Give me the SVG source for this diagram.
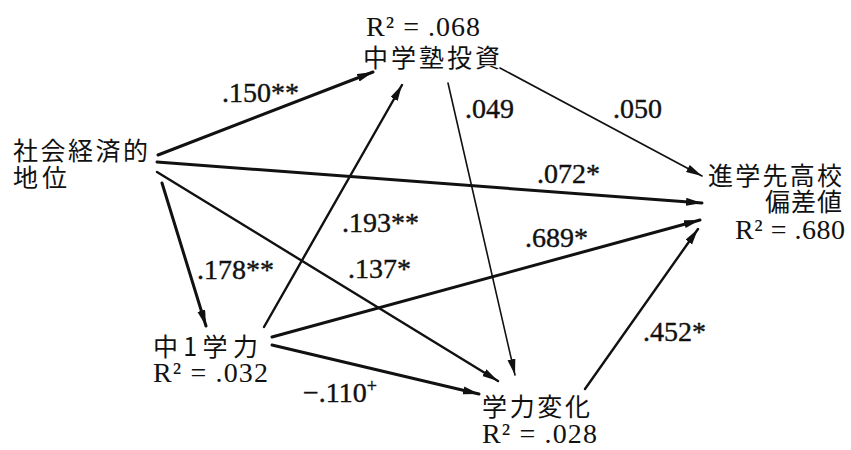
<svg xmlns="http://www.w3.org/2000/svg" width="851" height="450" viewBox="0 0 851 450">
<style>
.jp{font-family:"Noto Sans CJK JP","Noto Sans CJK SC",sans-serif;font-size:25px;fill:#111}
.r2{font-family:"Liberation Serif","DejaVu Serif",serif;font-size:28px;fill:#111}
.lb{font-family:"Liberation Serif","DejaVu Serif",serif;font-size:28px;fill:#111;stroke:#111;stroke-width:0.4}
.e{fill:none;stroke:#111;stroke-linecap:round}
.tk{stroke-width:3}
.md{stroke-width:2.4}
.tn{stroke-width:1.6}
</style>
<defs>
<marker id="ah" markerUnits="userSpaceOnUse" markerWidth="18" markerHeight="10" refX="16" refY="4" orient="auto">
<path d="M0,0 L16,4 L0,8 z" fill="#111"/>
</marker>
</defs>
<g id="connectors">
<line class="e tk" x1="158" y1="155" x2="373" y2="72" marker-end="url(#ah)"/>
<line class="e tk" x1="157" y1="162" x2="702" y2="203" marker-end="url(#ah)"/>
<line class="e md" x1="157" y1="172" x2="498" y2="381" marker-end="url(#ah)"/>
<line class="e tk" x1="162" y1="183" x2="206" y2="326" marker-end="url(#ah)"/>
<line class="e md" x1="264" y1="327" x2="402" y2="85" marker-end="url(#ah)"/>
<line class="e tk" x1="272" y1="337" x2="700" y2="220" marker-end="url(#ah)"/>
<line class="e tk" x1="272" y1="345" x2="479" y2="394" marker-end="url(#ah)"/>
<line class="e tn" x1="448" y1="83" x2="515" y2="375" marker-end="url(#ah)"/>
<line class="e tn" x1="500" y1="68" x2="702" y2="176" marker-end="url(#ah)"/>
<line class="e md" x1="585" y1="389" x2="698" y2="229" marker-end="url(#ah)"/>
<text class="lb" x="222" y="102">.150**</text>
<text class="lb" x="537" y="183">.072*</text>
<text class="lb" x="613" y="118">.050</text>
<text class="lb" x="465" y="118">.049</text>
<text class="lb" x="342" y="232">.193**</text>
<text class="lb" x="197" y="279">.178**</text>
<text class="lb" x="348" y="278">.137*</text>
<text class="lb" x="525" y="247">.689*</text>
<text class="lb" x="303" y="402">−.110<tspan dy="-10" font-size="18">+</tspan></text>
<text class="lb" x="643" y="341">.452*</text>
</g>
<g id="node-juku">
<text class="r2" x="366" y="36" textLength="114">R² = .068</text>
<text class="jp" x="363" y="67" textLength="137">中学塾投資</text>
</g>
<g id="node-ses">
<text class="jp" x="13" y="160" textLength="135">社会経済的</text>
<text class="jp" x="13" y="187" textLength="54">地位</text>
</g>
<g id="node-hensachi">
<text class="jp" x="708" y="185" textLength="134">進学先高校</text>
<text class="jp" x="765" y="211" textLength="77">偏差値</text>
<text class="r2" x="735" y="239" textLength="110">R² = .680</text>
</g>
<g id="node-chu1">
<text class="jp" x="153" y="356" textLength="105">中1学力</text>
<text class="r2" x="153" y="382" textLength="115">R² = .032</text>
</g>
<g id="node-henka">
<text class="jp" x="482" y="416" textLength="108">学力変化</text>
<text class="r2" x="482" y="443" textLength="115">R² = .028</text>
</g>
</svg>
